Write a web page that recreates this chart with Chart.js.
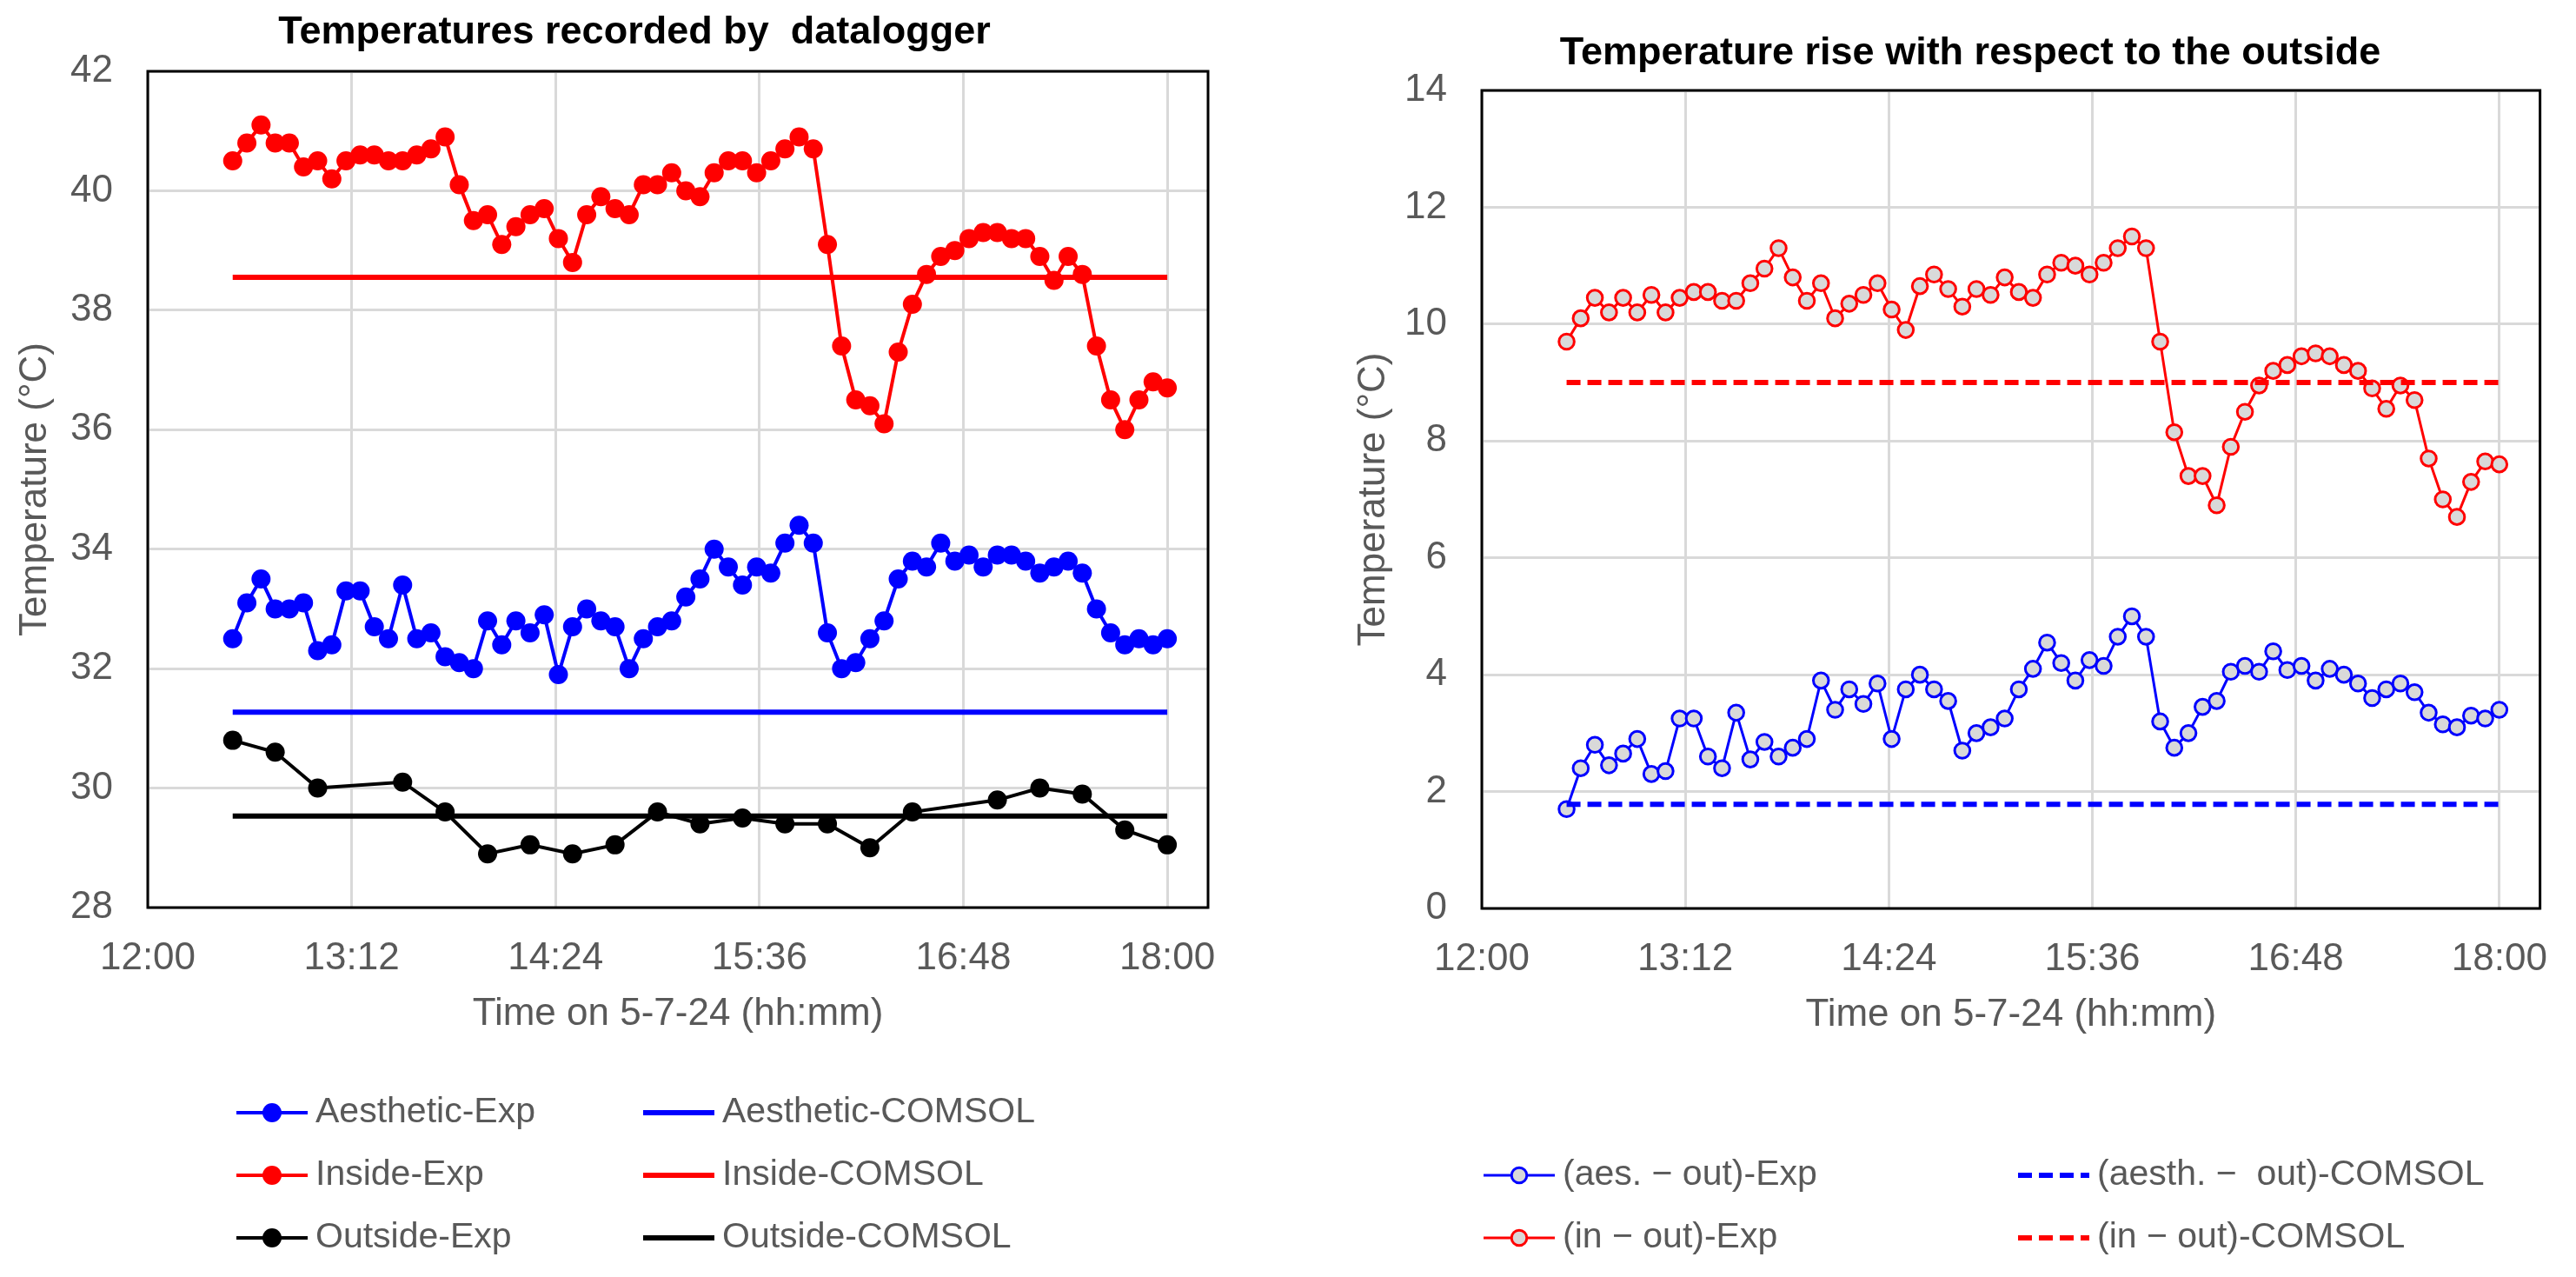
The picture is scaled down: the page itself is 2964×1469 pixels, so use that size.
<!DOCTYPE html>
<html lang="en">
<head>
<meta charset="utf-8">
<title>Temperatures recorded by datalogger</title>
<script src="https://cdn.jsdelivr.net/npm/chart.js@4.4.1/dist/chart.umd.min.js"></script>
<style>
  html, body { margin: 0; padding: 0; background: #fff; overflow: hidden; }
  body { width: 2964px; height: 1469px; position: relative; }
  canvas { position: absolute; top: 0; }
  #graficoIzq { left: 0; }
  #graficoDer { left: 1482px; }
</style>
</head>
<body>
<canvas id="graficoIzq" width="1482" height="1469"></canvas>
<canvas id="graficoDer" width="1482" height="1469"></canvas>
<script>
// horas de las lecturas cada 5 min
const horas = [
  "12:30", "12:35", "12:40", "12:45", "12:50", "12:55",
  "13:00", "13:05", "13:10", "13:15", "13:20", "13:25", "13:30", "13:35", "13:40", "13:45", "13:50", "13:55",
  "14:00", "14:05", "14:10", "14:15", "14:20", "14:25", "14:30", "14:35", "14:40", "14:45", "14:50", "14:55",
  "15:00", "15:05", "15:10", "15:15", "15:20", "15:25", "15:30", "15:35", "15:40", "15:45", "15:50", "15:55",
  "16:00", "16:05", "16:10", "16:15", "16:20", "16:25", "16:30", "16:35", "16:40", "16:45", "16:50", "16:55",
  "17:00", "17:05", "17:10", "17:15", "17:20", "17:25", "17:30", "17:35", "17:40", "17:45", "17:50", "17:55",
  "18:00"
];

const estetica = [
  32.5, 33.1, 33.5, 33.0, 33.0, 33.1, 32.3, 32.4, 33.3, 33.3,
  32.7, 32.5, 33.4, 32.5, 32.6, 32.2, 32.1, 32.0, 32.8, 32.4,
  32.8, 32.6, 32.9, 31.9, 32.7, 33.0, 32.8, 32.7, 32.0, 32.5,
  32.7, 32.8, 33.2, 33.5, 34.0, 33.7, 33.4, 33.7, 33.6, 34.1,
  34.4, 34.1, 32.6, 32.0, 32.1, 32.5, 32.8, 33.5, 33.8, 33.7,
  34.1, 33.8, 33.9, 33.7, 33.9, 33.9, 33.8, 33.6, 33.7, 33.8,
  33.6, 33.0, 32.6, 32.4, 32.5, 32.4, 32.5
];

const interior = [
  40.5, 40.8, 41.1, 40.8, 40.8, 40.4, 40.5, 40.2, 40.5, 40.6,
  40.6, 40.5, 40.5, 40.6, 40.7, 40.9, 40.1, 39.5, 39.6, 39.1,
  39.4, 39.6, 39.7, 39.2, 38.8, 39.6, 39.9, 39.7, 39.6, 40.1,
  40.1, 40.3, 40.0, 39.9, 40.3, 40.5, 40.5, 40.3, 40.5, 40.7,
  40.9, 40.7, 39.1, 37.4, 36.5, 36.4, 36.1, 37.3, 38.1, 38.6,
  38.9, 39.0, 39.2, 39.3, 39.3, 39.2, 39.2, 38.9, 38.5, 38.9,
  38.6, 37.4, 36.5, 36.0, 36.5, 36.8, 36.7
];

const horasExterior = [
  "12:30", "12:45", "13:00", "13:30", "13:45", "14:00", "14:15", "14:30", "14:45", "15:00", "15:15",
  "15:30", "15:45", "16:00", "16:15", "16:30", "17:00", "17:15", "17:30", "17:45", "18:00"
];
const exterior = [
  30.8, 30.6, 30.0, 30.1, 29.6, 28.9, 29.05, 28.9, 29.05, 29.6, 29.4,
  29.5, 29.4, 29.4, 29.0, 29.6, 29.8, 30.0, 29.9, 29.3, 29.05
];

// resultados del modelo COMSOL (constantes)
const horasComsol = ["12:30", "18:00"];
const esteticaComsol = [31.27, 31.27];
const interiorComsol = [38.55, 38.55];
const exteriorComsol = [29.53, 29.53];

// diferencias respecto al exterior
const difEstetica = [
  1.7, 2.4, 2.8, 2.45, 2.65, 2.9, 2.3, 2.35, 3.25, 3.25,
  2.6, 2.4, 3.35, 2.55, 2.85, 2.6, 2.75, 2.9, 3.9, 3.4,
  3.75, 3.5, 3.85, 2.9, 3.75, 4.0, 3.75, 3.55, 2.7, 3.0,
  3.1, 3.25, 3.75, 4.1, 4.55, 4.2, 3.9, 4.25, 4.15, 4.65,
  5.0, 4.65, 3.2, 2.75, 3.0, 3.45, 3.55, 4.05, 4.15, 4.05,
  4.4, 4.08, 4.15, 3.9, 4.1, 4.0, 3.85, 3.6, 3.75, 3.85,
  3.7, 3.35, 3.15, 3.1, 3.3, 3.25, 3.4
];
const difInterior = [
  9.7, 10.1, 10.45, 10.2, 10.45, 10.2, 10.5, 10.2, 10.45, 10.55,
  10.55, 10.4, 10.4, 10.7, 10.95, 11.3, 10.8, 10.4, 10.7, 10.1,
  10.35, 10.5, 10.7, 10.25, 9.9, 10.65, 10.85, 10.6, 10.3, 10.6,
  10.5, 10.8, 10.55, 10.45, 10.85, 11.05, 11.0, 10.85, 11.05, 11.3,
  11.5, 11.3, 9.7, 8.15, 7.4, 7.4, 6.9, 7.9, 8.5, 8.95,
  9.2, 9.3, 9.45, 9.5, 9.45, 9.3, 9.2, 8.9, 8.55, 8.95,
  8.7, 7.7, 7.0, 6.7, 7.3, 7.65, 7.6
];
const difEsteticaComsol = [1.78, 1.78];
const difInteriorComsol = [9.0, 9.0];

// ejes
const ticksHora = ["12:00", "13:12", "14:24", "15:36", "16:48", "18:00"];
const limitesHora = ["12:00", "18:14:24"];
const ejeTemp = [28, 42];
const ejeDif = [0, 14];

const FUENTE = "'Liberation Sans', Arial, sans-serif";
const GRIS = "#595959";

function aMinutos(h) {
  const [hh, mm, ss] = h.split(":").map(Number);
  return hh * 60 + mm + (ss || 0) / 60;
}

function puntos(hs, valores) {
  return hs.map((h, i) => ({ x: aMinutos(h), y: valores[i] }));
}

// marco negro alrededor del area de trazado
const marco = {
  id: "marco",
  beforeDatasetsDraw(chart) {
    const { ctx, chartArea: a } = chart;
    ctx.save();
    ctx.strokeStyle = "#000";
    ctx.lineWidth = 3;
    ctx.strokeRect(a.left, a.top, a.right - a.left, a.bottom - a.top);
    ctx.restore();
  }
};

const titulo = {
  id: "titulo",
  afterDraw(chart, args, opts) {
    const ctx = chart.ctx;
    ctx.save();
    ctx.font = "bold 45px " + FUENTE;
    ctx.fillStyle = "#000";
    ctx.textAlign = "center";
    ctx.textBaseline = "middle";
    ctx.fillText(opts.texto, opts.x, opts.y);
    ctx.restore();
  }
};

// leyenda en dos columnas, como en Excel
const leyenda = {
  id: "leyenda",
  afterDraw(chart, args, opts) {
    const ctx = chart.ctx;
    chart.data.datasets.forEach((ds, i) => {
      const x = opts.columnas[i % 2];
      const y = opts.filas[Math.floor(i / 2)];
      ctx.save();
      ctx.strokeStyle = ds.borderColor;
      ctx.lineWidth = ds.borderWidth;
      ctx.setLineDash(ds.borderDash || []);
      ctx.beginPath();
      ctx.moveTo(x, y);
      ctx.lineTo(x + opts.largo, y);
      ctx.stroke();
      ctx.setLineDash([]);
      if (ds.pointRadius > 0) {
        ctx.beginPath();
        ctx.arc(x + opts.largo / 2, y, ds.pointRadius, 0, Math.PI * 2);
        ctx.fillStyle = ds.pointBackgroundColor;
        ctx.fill();
        if (ds.pointBorderWidth > 0) {
          ctx.lineWidth = ds.pointBorderWidth;
          ctx.strokeStyle = ds.pointBorderColor;
          ctx.stroke();
        }
      }
      ctx.font = "41px " + FUENTE;
      ctx.fillStyle = GRIS;
      ctx.textBaseline = "middle";
      ctx.fillText(ds.label, x + opts.largo + opts.separacion, y);
      ctx.restore();
    });
  }
};

function serieExp(label, data, color) {
  return {
    label, data,
    borderColor: color, backgroundColor: color,
    pointBackgroundColor: color, pointBorderColor: color,
    borderWidth: 4, pointRadius: 11, pointBorderWidth: 0,
    order: 1
  };
}

function serieExpHueca(label, data, color) {
  return {
    label, data,
    borderColor: color, backgroundColor: "#d9d9d9",
    pointBackgroundColor: "#d9d9d9", pointBorderColor: color,
    borderWidth: 3, pointRadius: 8.8, pointBorderWidth: 3,
    order: 1
  };
}

function serieComsol(label, data, color, guiones) {
  return {
    label, data,
    borderColor: color, backgroundColor: color,
    borderWidth: 6, borderDash: guiones, pointRadius: 0,
    order: 0
  };
}

function crearGrafico(id, cfg) {
  return new Chart(document.getElementById(id), {
    type: "line",
    data: { datasets: cfg.series },
    plugins: [marco, titulo, leyenda],
    options: {
      responsive: false,
      animation: false,
      devicePixelRatio: 1,
      layout: { padding: cfg.padding },
      plugins: {
        legend: { display: false },
        tooltip: { enabled: false },
        titulo: cfg.titulo,
        leyenda: cfg.leyenda
      },
      scales: {
        x: {
          type: "linear",
          min: aMinutos(limitesHora[0]),
          max: aMinutos(limitesHora[1]),
          afterBuildTicks: (s) => { s.ticks = ticksHora.map(h => ({ value: aMinutos(h) })); },
          afterFit: (s) => { s.height = 160; },
          ticks: {
            color: GRIS, font: { size: 44, family: FUENTE }, padding: 32,
            maxRotation: 0, autoSkip: false,
            callback: (v, i) => ticksHora[i]
          },
          grid: { color: "#d9d9d9", lineWidth: 3, drawTicks: false },
          border: { display: false },
          title: {
            display: true, text: "Time on 5-7-24 (hh:mm)", color: GRIS,
            font: { size: 44, family: FUENTE }, padding: { top: 0, bottom: 11 }
          }
        },
        y: {
          min: cfg.ejeY[0], max: cfg.ejeY[1],
          afterFit: (s) => { s.width = cfg.anchoEjeY; },
          ticks: { stepSize: 2, color: GRIS, font: { size: 44, family: FUENTE }, padding: 40 },
          grid: { color: "#d9d9d9", lineWidth: 3, drawTicks: false },
          border: { display: false },
          title: {
            display: true, text: "Temperature (°C)", color: GRIS,
            font: { size: 44, family: FUENTE }, padding: { top: cfg.margenTituloY, bottom: 0 }
          }
        }
      }
    }
  });
}

crearGrafico("graficoIzq", {
  series: [
    serieExp("Aesthetic-Exp", puntos(horas, estetica), "#0000ff"),
    serieComsol("Aesthetic-COMSOL", puntos(horasComsol, esteticaComsol), "#0000ff"),
    serieExp("Inside-Exp", puntos(horas, interior), "#ff0000"),
    serieComsol("Inside-COMSOL", puntos(horasComsol, interiorComsol), "#ff0000"),
    serieExp("Outside-Exp", puntos(horasExterior, exterior), "#000000"),
    serieComsol("Outside-COMSOL", puntos(horasComsol, exteriorComsol), "#000000")
  ],
  padding: { left: 0, top: 82, right: 92, bottom: 265 },
  ejeY: ejeTemp,
  anchoEjeY: 170,
  margenTituloY: 14,
  titulo: { texto: "Temperatures recorded by  datalogger", x: 730, y: 38 },
  leyenda: { columnas: [272, 740], filas: [1280, 1352, 1424], largo: 82, separacion: 9 }
});

crearGrafico("graficoDer", {
  series: [
    serieExpHueca("(aes. \u2212 out)-Exp", puntos(horas, difEstetica), "#0000ff"),
    serieComsol("(aesth. \u2212  out)-COMSOL", puntos(horasComsol, difEsteticaComsol), "#0000ff", [16, 8]),
    serieExpHueca("(in \u2212 out)-Exp", puntos(horas, difInterior), "#ff0000"),
    serieComsol("(in \u2212 out)-COMSOL", puntos(horasComsol, difInteriorComsol), "#ff0000", [16, 8])
  ],
  padding: { left: 0, top: 104, right: 30, bottom: 264 },
  ejeY: ejeDif,
  anchoEjeY: 223,
  margenTituloY: 72,
  titulo: { texto: "Temperature rise with respect to the outside", x: 785, y: 62 },
  leyenda: { columnas: [225, 840], filas: [1352, 1424], largo: 82, separacion: 9 }
});
</script>
</body>
</html>
